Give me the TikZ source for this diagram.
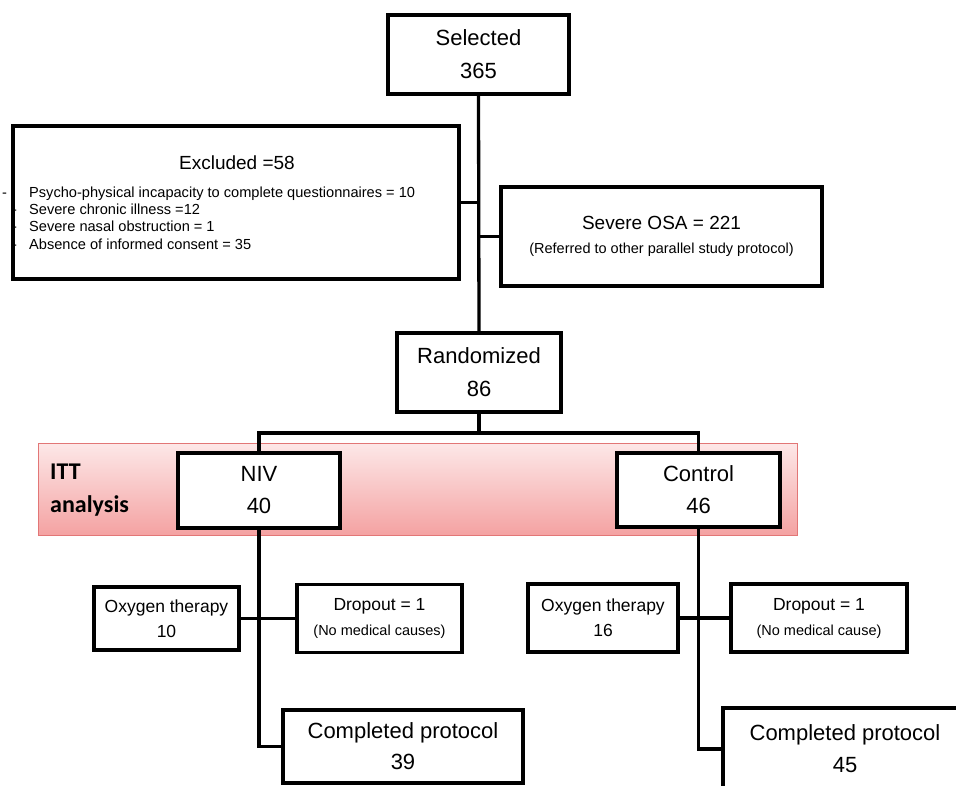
\documentclass[tikz,border=0pt]{standalone}
\usepackage{fontspec}
\setmainfont{Liberation Sans}
\newfontfamily\ittfont{Carlito}
\definecolor{bandtop}{RGB}{253,232,232}
\definecolor{bandbottom}{RGB}{244,162,162}
\definecolor{bandline}{RGB}{226,118,118}
\begin{document}
\begin{tikzpicture}[x=1pt,y=-1pt,
    stage/.style ={draw, line width=3.3pt, fill=white, inner sep=0pt, align=center},
    link/.style ={line width=3.3pt}]
   \useasboundingbox (0,0) rectangle (956,785);

   % ITT band
   \shade[top color=bandtop, bottom color=bandbottom, draw=bandline, line width=0.8pt] (38,443) rectangle (797,535);
   \node[anchor=west, align=left, inner sep=0pt, font=\ittfont\bfseries\fontsize{24}{33}\selectfont] (itt) at (50,490) {ITT\\analysis};

   \node[stage, minimum width=181pt, minimum height=79pt, font=\fontsize{22}{33}\selectfont] (sel) at (478.5,54.5) {Selected\\365};
   \node[stage, minimum width=446pt, minimum height=153pt] (excl) at (236,202.5) {};
   \node[font=\fontsize{19}{23}\selectfont] (extitle) at (237,163) {Excluded =58};
   \node[anchor=west, align=left, inner sep=0pt, font=\fontsize{14.6}{17.3}\selectfont] (exlist) at (2,218)
     {\makebox[27pt][l]{-}Psycho-physical incapacity to complete questionnaires = 10\\
      \makebox[27pt][l]{\hspace{10pt}-}Severe chronic illness =12\\
      \makebox[27pt][l]{\hspace{10pt}-}Severe nasal obstruction = 1\\
      \makebox[27pt][l]{\hspace{10pt}-}Absence of informed consent = 35};
   \node[stage, minimum width=321pt, minimum height=99pt, font=\fontsize{19}{24}\selectfont] (osa) at (661.5,236.5)
     {Severe OSA = 221\\{\fontsize{14.5}{17}\selectfont (Referred to other parallel study protocol)}};
   \node[stage, minimum width=164pt, minimum height=79pt, font=\fontsize{22}{33}\selectfont] (rand) at (479,372.5) {Randomized\\86};

   \node[stage, minimum width=162pt, minimum height=75pt, font=\fontsize{22}{32}\selectfont] (niv) at (259,490.5) {NIV\\40};
   \node[stage, minimum width=163pt, minimum height=74pt, font=\fontsize{22}{32}\selectfont] (ctrl) at (698.5,490) {Control\\46};

   \node[stage, minimum width=145pt, minimum height=63pt, font=\fontsize{17.5}{25}\selectfont] (oxya) at (166.5,618.5) {Oxygen therapy\\10};
   \node[stage, minimum width=165pt, minimum height=68pt, font=\fontsize{17.5}{25}\selectfont] (dropa) at (379.5,618.5)
     {Dropout = 1\\{\fontsize{14.5}{17}\selectfont (No medical causes)}};
   \node[stage, minimum width=240pt, minimum height=73pt, font=\fontsize{22}{31}\selectfont] (compa) at (403,746.5) {Completed protocol\\39};

   \node[stage, minimum width=150pt, minimum height=68pt, font=\fontsize{17.5}{25}\selectfont] (oxyb) at (603,618) {Oxygen therapy\\16};
   \node[stage, minimum width=176pt, minimum height=68pt, font=\fontsize{17.5}{25}\selectfont] (dropb) at (819,618)
     {Dropout = 1\\{\fontsize{14.5}{17}\selectfont (No medical cause)}};
   \node[stage, minimum width=244pt, minimum height=82pt, font=\fontsize{22}{32}\selectfont] (compb) at (845,749) {Completed protocol\\45};

   \coordinate (split) at (479,433);

   \draw[link] (sel.south) -- (rand.north);
   \draw[link] (excl.east) -- (excl.east -| sel.south);
   \draw[link] (osa.west) -- (osa.west -| sel.south);
   \draw[link] (rand.south) -- (split);
   \draw[link] (niv.north) |- (split) -| (ctrl.north);
   \draw[link] (niv.south) |- (compa.west);
   \draw[link] (oxya.east) -- (dropa.west);
   \draw[link] (ctrl.south) |- (compb.west);
   \draw[link] (oxyb.east) -- (dropb.west);
 \end{tikzpicture}
\end{document}
